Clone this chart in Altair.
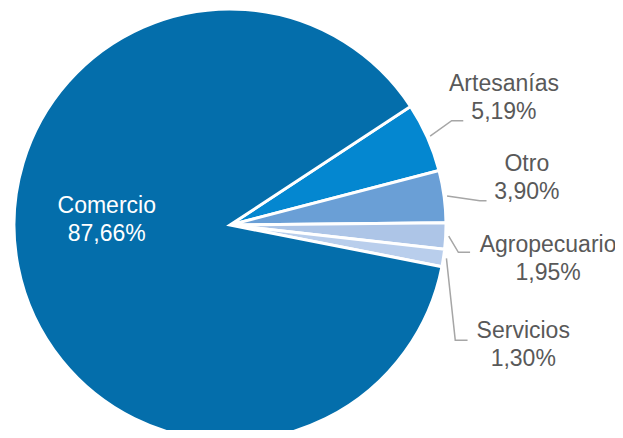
import math
import altair as alt
import pandas as pd

# ---- data ----
categorias = ["Artesanías", "Otro", "Agropecuario", "Servicios", "Comercio"]
porcentajes = [5.19, 3.90, 1.95, 1.30, 87.66]
colores = ["#0487D0", "#6A9FD6", "#ADC5E7", "#B9CEEC", "#046EAB"]

# ---- layout (annotation placement) ----
W, H = 607, 422
CX, CY, R = 222, 217, 216
A0 = 56.7  # start angle of the first slice, degrees clockwise from 12 o'clock
codo_desv = [-1.25, 2.06, 3.9, 18.3]   # elbow angular shift from slice middle (deg)
codo_radio = [245, 251, 230, 253]        # elbow radius
tramo = [11.6, 6.7, 11.7, 12.3]          # horizontal leader length
texto_dx = [40.7, 40.3, 78, 55.7]        # label offset from leader end
texto_dy = [-30, -29.7, -0.6, -1.7]
interior_radio, interior_dy = 125.6, -35.9

total = sum(porcentajes)
acum = 0.0
medios = []
for v in porcentajes:
    medios.append(A0 + 360.0 * (acum + v / 2) / total)
    acum += v


def polar(ang_deg, r):
    a = math.radians(ang_deg)
    return CX + r * math.sin(a), CY - r * math.cos(a)


def fmt(v):
    return f"{v:.2f}".replace(".", ",") + "%"


df = pd.DataFrame({
    "categoria": categorias,
    "valor": porcentajes,
    "orden": list(range(len(categorias))),
})

lineas, etiquetas = [], []
for i, c in enumerate(categorias):
    txt = f"{c}\n{fmt(porcentajes[i])}"
    if i < 4:
        x0, y0 = polar(medios[i], R + 3)
        x1, y1 = polar(medios[i] + codo_desv[i], codo_radio[i])
        x2, y2 = x1 + tramo[i], y1
        for p, (x, y) in enumerate([(x0, y0), (x1, y1), (x2, y2)]):
            lineas.append({"categoria": c, "paso": p, "x": x, "y": y})
        etiquetas.append({"categoria": c, "texto": txt, "x": x2 + texto_dx[i],
                          "y": y2 + texto_dy[i], "color": "#595959"})
    else:
        x, y = polar(medios[i], interior_radio)
        etiquetas.append({"categoria": c, "texto": txt, "x": x, "y": y + interior_dy,
                          "color": "#FFFFFF"})

df_lin = pd.DataFrame(lineas)
df_eti = pd.DataFrame(etiquetas)

arco = alt.Chart(df).mark_arc(outerRadius=R, stroke="white", strokeWidth=3).encode(
    theta=alt.Theta("valor:Q", stack=True,
                    scale=alt.Scale(range=[math.radians(A0), math.radians(A0) + 2 * math.pi])),
    order=alt.Order("orden:Q"),
    color=alt.Color("categoria:N", scale=alt.Scale(domain=categorias, range=colores), legend=None),
    x=alt.value(CX),
    y=alt.value(CY),
)

guias = alt.Chart(df_lin).mark_line(color="#A6A6A6", strokeWidth=1.5).encode(
    x=alt.X("x:Q", scale=None, axis=None),
    y=alt.Y("y:Q", scale=None, axis=None),
    detail="categoria:N",
    order="paso:Q",
)

textos = alt.Chart(df_eti).mark_text(
    font="Liberation Sans", fontSize=23, align="center", baseline="alphabetic",
    lineBreak="\n", lineHeight=28,
).encode(
    x=alt.X("x:Q", scale=None, axis=None),
    y=alt.Y("y:Q", scale=None, axis=None),
    text="texto:N",
    color=alt.Color("color:N", scale=None),
)

chart = alt.layer(arco, guias, textos).properties(
    width=W, height=H, padding=0, autosize=alt.AutoSizeParams(type="none")
).configure_view(stroke=None)

chart.save("out.html", embed_options={"renderer": "svg", "actions": False})
